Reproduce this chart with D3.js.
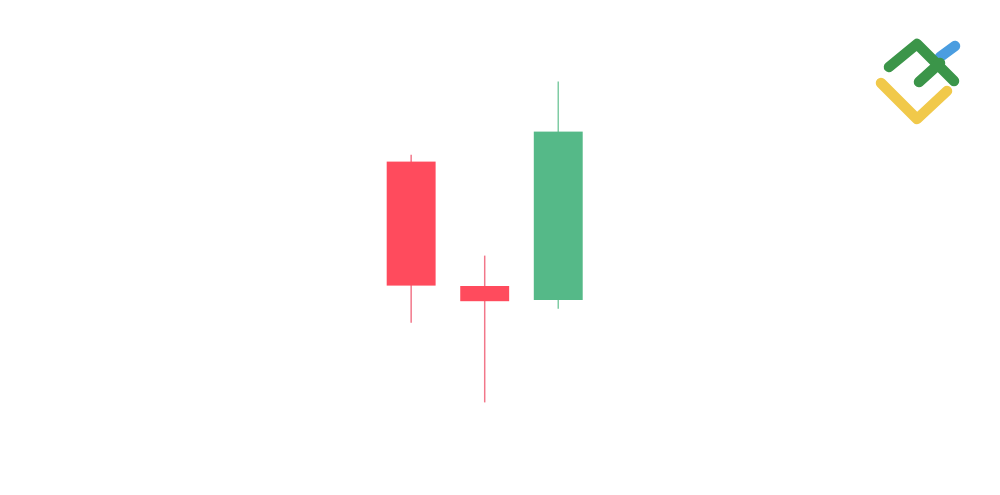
<!DOCTYPE html>
<html><head><meta charset="utf-8">
<script src="https://cdn.jsdelivr.net/npm/d3@7"></script>
<style>html,body{margin:0;padding:0;background:#fff;}svg{display:block;}</style>
</head><body>
<svg id="c" width="1000" height="495"></svg>
<script>
const categories = ["c1", "c2", "c3"];
const opens  = [72.6, 41.5, 38.0];
const closes = [41.6, 37.7, 80.1];
const highs  = [74.3, 49.1, 92.6];
const lows   = [32.3, 12.4, 35.8];

const svg = d3.select("#c");
const x = d3.scaleBand().domain(categories).range([386.7, 582.7]).paddingInner(0.335).paddingOuter(0);
const y = d3.scaleLinear().domain([0, 100]).range([452, 52]);

const data = categories.map((c, i) => ({c, o: opens[i], cl: closes[i], h: highs[i], l: lows[i]}));
const up = d => d.cl >= d.o;

const g = svg.append("g");
g.selectAll("line.wick").data(data).join("line")
  .attr("class", "wick")
  .attr("x1", d => x(d.c) + x.bandwidth() / 2)
  .attr("x2", d => x(d.c) + x.bandwidth() / 2)
  .attr("y1", d => y(d.h)).attr("y2", d => y(d.l))
  .attr("stroke", d => up(d) ? "#7fcca4" : "#f2778a")
  .attr("stroke-width", 1.5);

g.selectAll("rect.body").data(data).join("rect")
  .attr("class", "body")
  .attr("x", d => x(d.c))
  .attr("width", x.bandwidth())
  .attr("y", d => y(Math.max(d.o, d.cl)))
  .attr("height", d => Math.abs(y(d.o) - y(d.cl)))
  .attr("fill", d => up(d) ? "#55b988" : "#ff4b5d");

// logo
const logo = svg.append("g").attr("fill", "none").attr("stroke-linecap", "round").attr("stroke-linejoin", "round").attr("stroke-width", 10.5);
logo.append("path").attr("d", "M881,83 L917,119 L947,91").attr("stroke", "#f1c94a");
logo.append("path").attr("d", "M940,57 L955,46").attr("stroke", "#4a9de0");
logo.append("path").attr("d", "M889,67 L917,44 L954,81").attr("stroke", "#3b9549");
logo.append("path").attr("d", "M919,82 L940,63").attr("stroke", "#3b9549");
</script>
</body></html>
